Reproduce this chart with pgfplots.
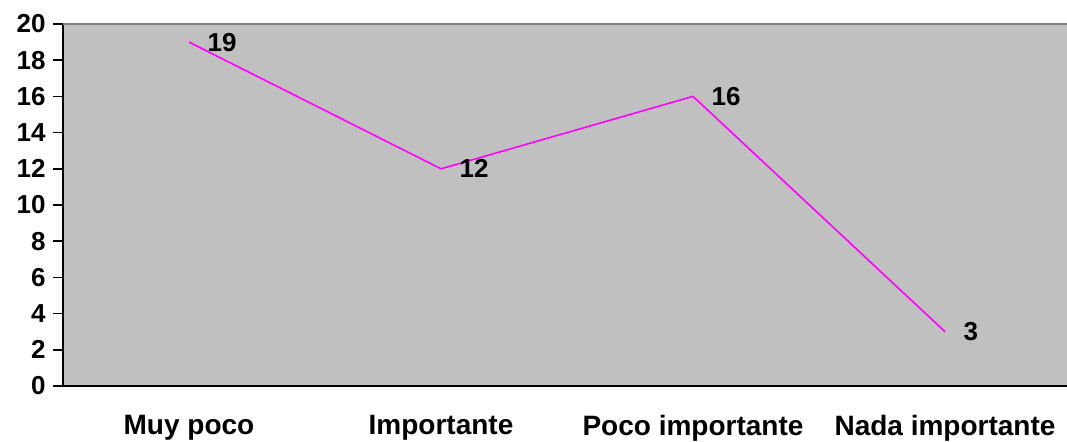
\documentclass[border=0pt]{standalone}
\usepackage{fontspec}
\setmainfont{Liberation Sans}
\usepackage{pgfplots}
\pgfplotsset{compat=1.18}
\definecolor{bggray}{RGB}{192,192,192}
\definecolor{topgray}{RGB}{128,128,128}
\definecolor{mag}{RGB}{255,0,255}
\begin{document}
\begin{tikzpicture}[font=\bfseries]
\begin{axis}[
  at={(0,0)}, anchor=south west,
  scale only axis,
  width=753pt, height=271.5pt,
  xmin=-0.5, xmax=3.484,
  ymin=0, ymax=20,
  ytick={0,2,...,20},
  xtick={0,1,2,3},
  xticklabels={Muy poco, Importante, Poco importante, Nada importante},
  extra x ticks={-0.5,0.5,1.5,2.5},
  extra x tick labels={},
  extra x tick style={major tick length=6pt, tick style={black, line width=1.2pt}},
  major x tick style={draw=none},
  axis background/.style={fill=bggray},
  axis x line*=bottom,
  axis y line*=left,
  axis line style={black, line width=1.5pt, -},
  y tick style={black, line width=1.2pt},
  tick align=outside,
  major tick length=7.5pt,
  xticklabel style={font=\bfseries\fontsize{21}{25}\selectfont, yshift=-11pt},
  yticklabel style={font=\bfseries\fontsize{19.5}{23}\selectfont, xshift=-2pt},
  /pgf/number format/assume math mode=true,
  clip=false,
  nodes near coords,
  every node near coord/.append style={anchor=west, font=\bfseries\fontsize{19.5}{23}\selectfont, xshift=10pt, text=black},
]
\addplot[color=mag, line width=1.2pt, mark=none] coordinates {
  (0,19) (1,12) (2,16) (3,3)
};
\draw[topgray, line width=1.5pt] (rel axis cs:0,1) -- (rel axis cs:1,1);
\end{axis}
\pgfresetboundingbox
\path (-47.25pt,-42pt) rectangle (753pt,289.5pt);
\end{tikzpicture}
\end{document}
